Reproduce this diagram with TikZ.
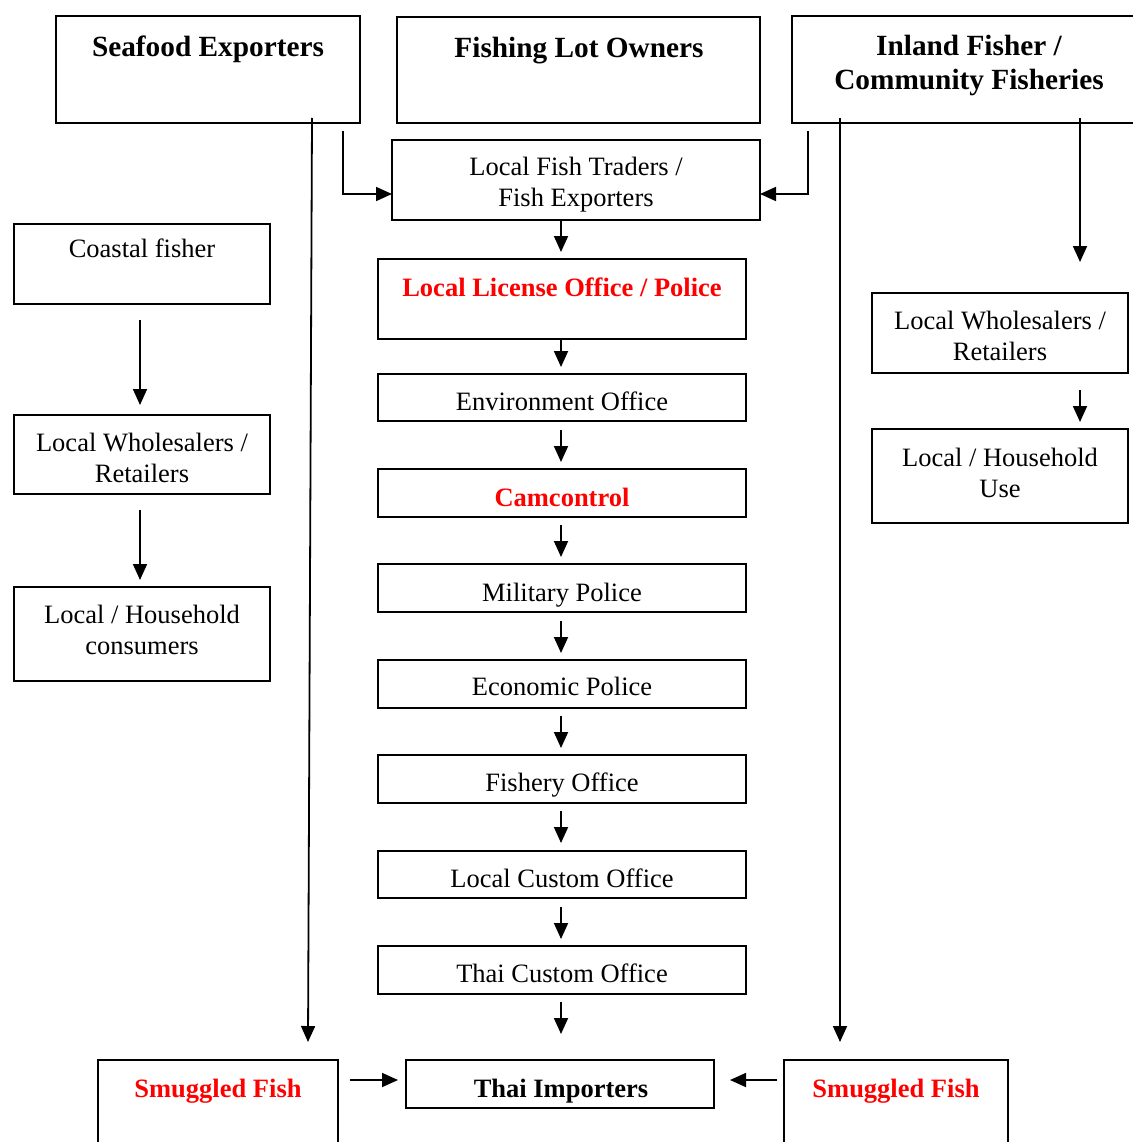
\documentclass[tikz,border=0pt]{standalone}
\usepackage{fontspec}
\setmainfont{Liberation Serif}
\usetikzlibrary{arrows.meta}
\definecolor{alert}{RGB}{255,0,0}
\tikzset{
  box/.style={draw, line width=1.8pt, inner sep=0pt, outer sep=0pt},
  lbl/.style={anchor=base, inner sep=0pt, align=center, font=\fontsize{26.5}{31}\selectfont},
  ttl/.style={anchor=base, inner sep=0pt, align=center, font=\fontsize{29.3}{34}\selectfont\bfseries},
  hot/.style={anchor=base, inner sep=0pt, align=center, text=alert, font=\fontsize{26.5}{31}\selectfont\bfseries},
  blk/.style={anchor=base, inner sep=0pt, align=center, font=\fontsize{26.5}{31}\selectfont\bfseries},
  arr/.style={line width=1.8pt, -{Triangle[length=16pt,width=14pt]}},
}
\begin{document}
\begin{tikzpicture}[x=1pt, y=-1pt]
\useasboundingbox (0,0) rectangle (1132,1142);

% frames
\node[box, minimum width=304pt, minimum height=107pt] (sea) at (208,69.5) {};
\node[box, minimum width=363pt, minimum height=106pt] (flo) at (578.5,70) {};
\node[box, minimum width=354pt, minimum height=107pt] (inl) at (969,69.5) {};
\node[box, minimum width=368pt, minimum height=80pt] (lft) at (576,180) {};
\node[box, minimum width=256pt, minimum height=80pt] (cst) at (142,264) {};
\node[box, minimum width=256pt, minimum height=79pt] (lwl) at (142,454.5) {};
\node[box, minimum width=256pt, minimum height=94pt] (lhh) at (142,634) {};
\node[box, minimum width=368pt, minimum height=80pt] (llo) at (562,299) {};
\node[box, minimum width=368pt, minimum height=47pt] (env) at (562,397.5) {};
\node[box, minimum width=368pt, minimum height=48pt] (cam) at (562,493) {};
\node[box, minimum width=368pt, minimum height=48pt] (mil) at (562,588) {};
\node[box, minimum width=368pt, minimum height=48pt] (eco) at (562,684) {};
\node[box, minimum width=368pt, minimum height=48pt] (fsh) at (562,779) {};
\node[box, minimum width=368pt, minimum height=47pt] (lco) at (562,874.5) {};
\node[box, minimum width=368pt, minimum height=48pt] (tco) at (562,970) {};
\node[box, minimum width=308pt, minimum height=48pt] (thi) at (560,1084) {};
\node[box, minimum width=240pt, minimum height=110pt] (sml) at (218,1115) {};
\node[box, minimum width=224pt, minimum height=110pt] (smr) at (896,1115) {};
\node[box, minimum width=256pt, minimum height=80pt] (rwl) at (1000,333) {};
\node[box, minimum width=256pt, minimum height=94pt] (rhh) at (1000,476) {};

% texts (multi-line labels sit on the baseline of their last line)
\node[ttl] (seaT) at (208,56.5) {Seafood Exporters};
\node[ttl] (floT) at (579,57.5) {Fishing Lot Owners};
\node[ttl] (inlT) at (969,89.5) {Inland Fisher /\\Community Fisheries};
\node[lbl] (lftT) at (576,206) {Local Fish Traders /\\Fish Exporters};
\node[lbl] (cstT) at (142,257) {Coastal fisher};
\node[lbl] (lwlT) at (142,482) {Local Wholesalers /\\Retailers};
\node[lbl] (lhhT) at (142,654) {Local / Household\\consumers};
\node[hot] (lloT) at (562,296) {Local License Office / Police};
\node[lbl] (envT) at (562,410) {Environment Office};
\node[hot] (camT) at (562,506) {Camcontrol};
\node[lbl] (milT) at (562,601) {Military Police};
\node[lbl] (ecoT) at (562,695) {Economic Police};
\node[lbl] (fshT) at (562,791) {Fishery Office};
\node[lbl] (lcoT) at (562,887) {Local Custom Office};
\node[lbl] (tcoT) at (562,982) {Thai Custom Office};
\node[blk] (thiT) at (561,1097) {Thai Importers};
\node[hot] (smlT) at (218,1097) {Smuggled Fish};
\node[hot] (smrT) at (896,1097) {Smuggled Fish};
\node[lbl] (rwlT) at (1000,360) {Local Wholesalers /\\Retailers};
\node[lbl] (rhhT) at (1000,497) {Local / Household\\Use};

% flows into the traders
\draw[arr] (sea.south east) ++(-17,8) |- ([yshift=-14pt]lft.west);
\draw[arr] (inl.south west) ++(16,8) |- ([yshift=-14pt]lft.east);

% long smuggling routes
\draw[arr] ([xshift=104pt,yshift=5pt]sea.south) -- ([xshift=90pt,yshift=18pt]sml.north);
\draw[arr] ([xshift=48pt,yshift=5pt]inl.south west) -- ([xshift=-56pt,yshift=18pt]smr.north);

% inland domestic chain
\draw[arr] ([xshift=111pt,yshift=5pt]inl.south) -- ([xshift=80pt,yshift=31pt]rwl.north);
\draw[arr] ([xshift=80pt,yshift=-17pt]rwl.south) -- ([xshift=80pt,yshift=7pt]rhh.north);

% coastal domestic chain
\draw[arr] ([xshift=-2pt,yshift=-16pt]cst.south) -- ([xshift=-2pt,yshift=10pt]lwl.north);
\draw[arr] ([xshift=-2pt,yshift=-16pt]lwl.south) -- ([xshift=-2pt,yshift=7pt]lhh.north);

% official chain
\draw[arr] ([xshift=-15pt]lft.south) -- ([xshift=-1pt,yshift=7pt]llo.north);
\draw[arr] ([xshift=-1pt]llo.south) -- ([xshift=-1pt,yshift=7pt]env.north);
\draw[arr] ([xshift=-1pt,yshift=-9pt]env.south) -- ([xshift=-1pt,yshift=7pt]cam.north);
\draw[arr] ([xshift=-1pt,yshift=-8pt]cam.south) -- ([xshift=-1pt,yshift=7pt]mil.north);
\draw[arr] ([xshift=-1pt,yshift=-9pt]mil.south) -- ([xshift=-1pt,yshift=7pt]eco.north);
\draw[arr] ([xshift=-1pt,yshift=-8pt]eco.south) -- ([xshift=-1pt,yshift=7pt]fsh.north);
\draw[arr] ([xshift=-1pt,yshift=-8pt]fsh.south) -- ([xshift=-1pt,yshift=8pt]lco.north);
\draw[arr] ([xshift=-1pt,yshift=-9pt]lco.south) -- ([xshift=-1pt,yshift=7pt]tco.north);
\draw[arr] ([xshift=-1pt,yshift=-8pt]tco.south) -- ([xshift=1pt,yshift=26pt]thi.north);

% into the importers
\draw[arr] ([xshift=12pt,yshift=-20pt]sml.north east) -- ([xshift=-8pt,yshift=4pt]thi.west);
\draw[arr] ([xshift=-7pt,yshift=-20pt]smr.north west) -- ([xshift=16pt,yshift=4pt]thi.east);
\end{tikzpicture}
\end{document}
